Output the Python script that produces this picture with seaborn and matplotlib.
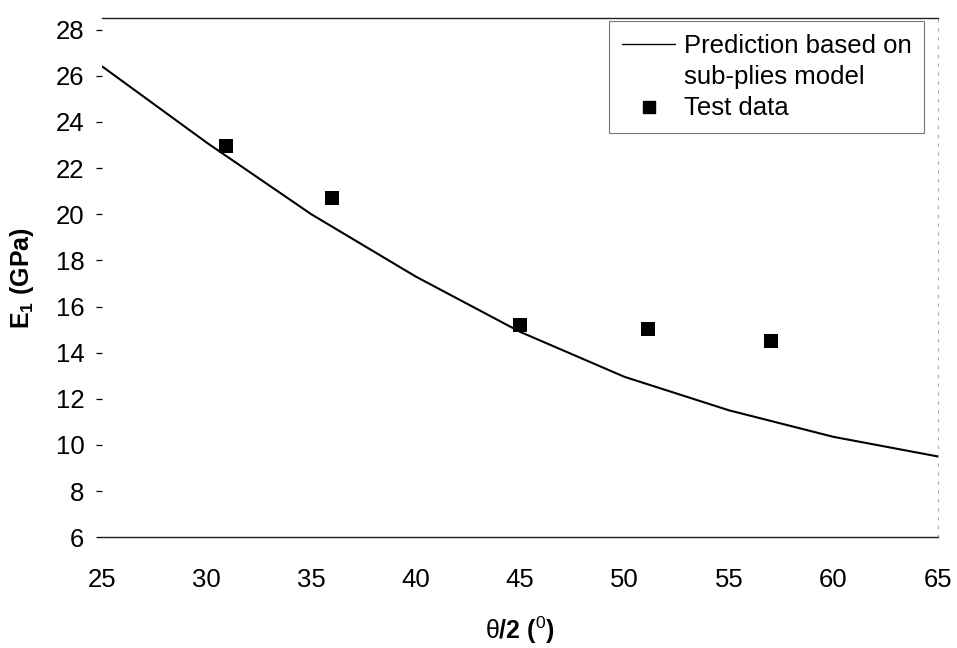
import matplotlib
matplotlib.use('Agg')
import pandas as pd
import seaborn as sns
import matplotlib.pyplot as plt
from matplotlib.lines import Line2D

# model curve (sub-plies prediction)
angle_model = [25, 30, 35, 40, 45, 50, 55, 60, 65]
e1_model = [26.4, 23.1, 20.0, 17.3, 14.9, 12.95, 11.5, 10.35, 9.5]

# measured points
angle_test = [30.9, 36.0, 45.0, 51.1, 57.0]
e1_test = [22.97, 20.7, 15.2, 15.03, 14.5]

x_ticks = [25, 30, 35, 40, 45, 50, 55, 60, 65]
y_ticks = [6, 8, 10, 12, 14, 16, 18, 20, 22, 24, 26, 28]

sns.set_style('white')
plt.rcParams['font.family'] = ['Liberation Sans', 'DejaVu Sans']
plt.rcParams['text.color'] = 'black'
plt.rcParams['axes.labelcolor'] = 'black'
plt.rcParams['xtick.color'] = 'black'
plt.rcParams['ytick.color'] = 'black'
plt.rcParams['mathtext.fontset'] = 'custom'
plt.rcParams['mathtext.rm'] = 'Liberation Sans'
plt.rcParams['mathtext.bf'] = 'Liberation Sans:bold'
plt.rcParams['mathtext.it'] = 'Liberation Sans:italic'

model_df = pd.DataFrame({'angle': angle_model, 'E1': e1_model})
test_df = pd.DataFrame({'angle': angle_test, 'E1': e1_test})

fig, ax = plt.subplots(figsize=(9.57, 6.48), dpi=100)
fig.subplots_adjust(left=0.107, right=0.98, bottom=0.171, top=0.972)

sns.lineplot(data=model_df, x='angle', y='E1', ax=ax, color='black', linewidth=1.5)
sns.scatterplot(data=test_df, x='angle', y='E1', ax=ax, marker='s', s=95,
                color='black', edgecolor='black', linewidth=0)

ax.set_xlim(25, 65)
ax.set_ylim(6, 28.5)
ax.set_xticks(x_ticks)
ax.set_yticks(y_ticks)
ax.tick_params(axis='y', which='major', left=True, length=4, width=0.9,
               pad=9, labelsize=18.5)
ax.tick_params(axis='x', which='major', bottom=False, pad=19, labelsize=18.5)

ax.spines['left'].set_visible(False)
for side in ['top', 'bottom']:
    ax.spines[side].set_color('#222222')
    ax.spines[side].set_linewidth(1.0)
ax.spines['right'].set_color('#aaaaaa')
ax.spines['right'].set_linestyle((0, (2, 6)))
ax.spines['right'].set_linewidth(0.8)

ax.set_ylabel(r'$\mathbf{E_1}$ (GPa)', fontsize=18, fontweight='bold', labelpad=14)
ax.set_xlabel(r'$\mathrm{\theta}$/2 ($^\mathrm{0}$)', fontsize=18, fontweight='bold', labelpad=16)

handles = [
    Line2D([], [], color='black', linewidth=1.0),
    Line2D([], [], color='none'),
    Line2D([], [], color='black', marker='s', linestyle='none', markersize=8),
]
labels = ['Prediction based on', 'sub-plies model', 'Test data']
leg = ax.legend(handles, labels, loc='upper right', bbox_to_anchor=(0.984, 0.994),
                borderaxespad=0, fontsize=18.5, frameon=True, fancybox=False,
                handlelength=2.05, handletextpad=0.35, labelspacing=0.28,
                borderpad=0.5)
leg.get_frame().set_edgecolor('#555555')
leg.get_frame().set_linewidth(0.8)

fig.savefig('out.png', dpi=100)
